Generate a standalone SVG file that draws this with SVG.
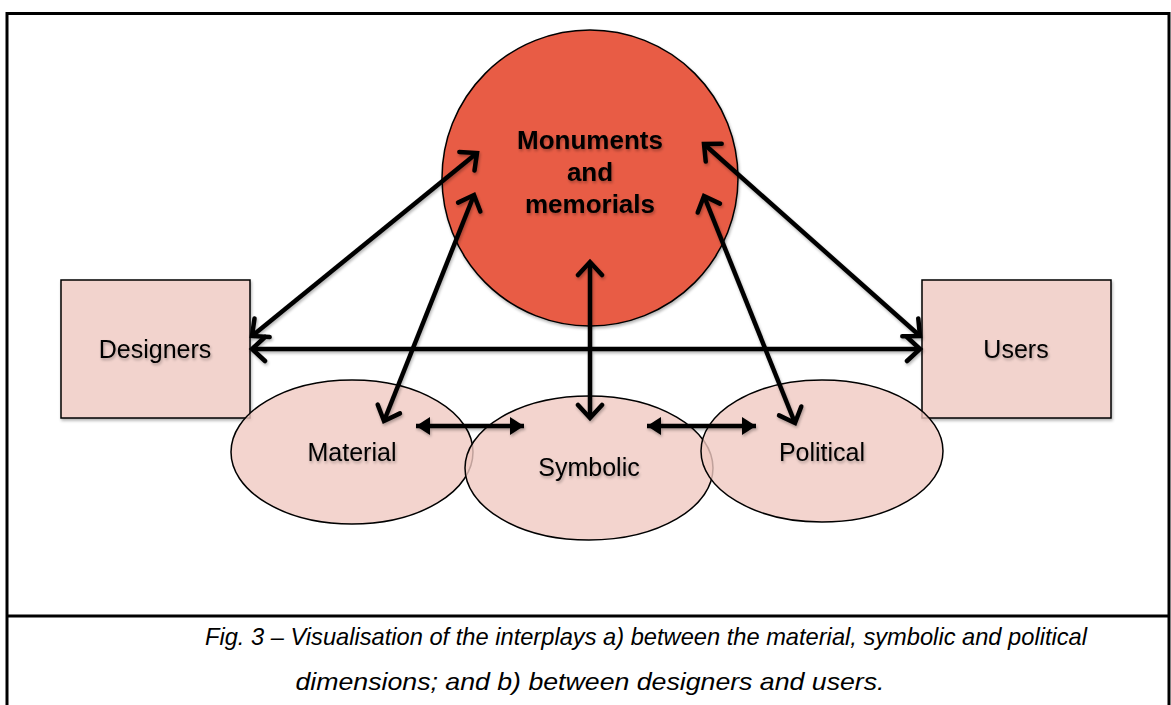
<svg xmlns="http://www.w3.org/2000/svg" width="1171" height="705" viewBox="0 0 1171 705">
<style>
.frame{fill:none;stroke:#000;stroke-width:3}
.box{fill:#F2D3CD;stroke:#000;stroke-width:1.5}
.ell{fill:#F0C9C2;fill-opacity:0.8;stroke:#000;stroke-width:1.5}
.circ{fill:#E85C45;stroke:#000;stroke-width:1.5}
.lbl{font-family:"Liberation Sans",Arial,sans-serif;font-size:25px;fill:#000;text-anchor:middle}
.bold{font-weight:bold;font-size:26px}
.cap{font-family:"Liberation Sans",Arial,sans-serif;font-style:italic;font-size:24px;fill:#000;text-anchor:middle}
.arr{stroke:#000;stroke-width:4.5;fill:none;marker-start:url(#open);marker-end:url(#open)}
.arr2{stroke:#000;stroke-width:4.5;fill:none;marker-start:url(#tri);marker-end:url(#tri)}
</style>
<defs>
<marker id="open" markerUnits="userSpaceOnUse" viewBox="-20 -15 25 30" refX="0" refY="0" markerWidth="25" markerHeight="30" orient="auto-start-reverse">
<path d="M-13,-12 L0,0 L-13,12" fill="none" stroke="#000" stroke-width="4.5" stroke-linecap="round" stroke-linejoin="miter"/>
</marker>
<marker id="tri" markerUnits="userSpaceOnUse" viewBox="-16 -10 18 20" refX="0" refY="0" markerWidth="18" markerHeight="20" orient="auto-start-reverse">
<path d="M-14,-9 L0,0 L-14,9 Z" fill="#000"/>
</marker>
<filter id="sh" x="-10%" y="-10%" width="130%" height="130%">
<feGaussianBlur in="SourceAlpha" stdDeviation="1.5"/>
<feOffset dx="1" dy="2" result="b"/>
<feComponentTransfer><feFuncA type="linear" slope="0.3"/></feComponentTransfer>
<feMerge><feMergeNode/><feMergeNode in="SourceGraphic"/></feMerge>
</filter>
</defs>
<rect width="1171" height="705" fill="#fff"/>
<path class="frame" d="M7,705 L7,13.5 L1169,13.5 L1169,705 M7,616 L1169,616"/>
<g id="monuments">
<circle class="circ" cx="590" cy="178" r="148" filter="url(#sh)"/>
<g filter="url(#sh)">
<text class="lbl bold" x="590" y="149">Monuments</text>
<text class="lbl bold" x="590" y="181">and</text>
<text class="lbl bold" x="590" y="213">memorials</text>
</g>
</g>
<g id="designers">
<rect class="box" x="61" y="280" width="189" height="138" filter="url(#sh)"/>
<text class="lbl" x="155" y="358" filter="url(#sh)">Designers</text>
</g>
<g id="users">
<rect class="box" x="922" y="280" width="189" height="138" filter="url(#sh)"/>
<text class="lbl" x="1016" y="358" filter="url(#sh)">Users</text>
</g>
<g id="material">
<ellipse class="ell" cx="352" cy="452" rx="121" ry="72"/>
<text class="lbl" x="352" y="461" filter="url(#sh)">Material</text>
</g>
<g id="symbolic">
<ellipse class="ell" cx="589" cy="468" rx="124" ry="72"/>
<text class="lbl" x="589" y="476" filter="url(#sh)">Symbolic</text>
</g>
<g id="political">
<ellipse class="ell" cx="822" cy="451" rx="121" ry="71"/>
<text class="lbl" x="822" y="461" filter="url(#sh)">Political</text>
</g>
<g id="connectors" filter="url(#sh)">
<line class="arr" x1="252" y1="349" x2="920" y2="349"/>
<line class="arr" x1="252" y1="336" x2="477" y2="153"/>
<line class="arr" x1="384" y1="421" x2="474" y2="195"/>
<line class="arr" x1="590" y1="418" x2="590" y2="262"/>
<line class="arr" x1="795" y1="423" x2="704" y2="196"/>
<line class="arr" x1="920" y1="336" x2="704" y2="144"/>
<line class="arr2" x1="416" y1="426" x2="524" y2="426"/>
<line class="arr2" x1="647" y1="426" x2="756" y2="426"/>
</g>
<g id="caption">
<text class="cap" x="646" y="645" textLength="882" lengthAdjust="spacingAndGlyphs">Fig. 3 – Visualisation of the interplays a) between the material, symbolic and political</text>
<text class="cap" x="590" y="690" textLength="589" lengthAdjust="spacingAndGlyphs">dimensions; and b) between designers and users.</text>
</g>
</svg>
